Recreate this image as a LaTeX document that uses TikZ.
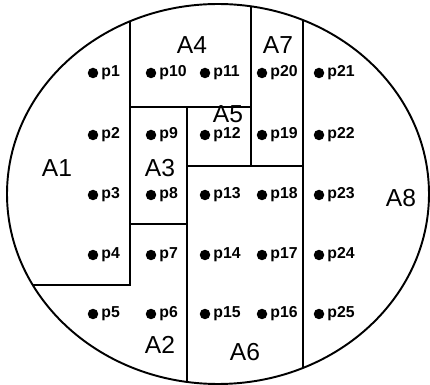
\documentclass[tikz,border=0pt]{standalone}
\usepackage{fontspec}
\setmainfont{Liberation Sans}
\usetikzlibrary{positioning}

\begin{document}
\begin{tikzpicture}[
  x=0.02cm, y=-0.02cm,
  wall/.style={line width=1.1pt, black},
  spot/.style={circle, fill=black, inner sep=0pt, outer sep=0pt, minimum size=0.21cm},
  plab/.style={font=\fontsize{9}{9}\selectfont\bfseries, inner sep=0pt},
  area/.style={font=\fontsize{14}{14}\selectfont, inner sep=0pt}
]
  \useasboundingbox (0,0) rectangle (430,385);

  % outline of the wafer
  \draw[wall] (218,194) ellipse [x radius=211, y radius=190];

  % region borders
  \begin{scope}
    \clip (218,194) ellipse [x radius=211, y radius=190];
    \draw[wall] (130,0) -- (130,285) -- (0,285);
    \draw[wall] (130,107) -- (251,107);
    \draw[wall] (251,0) -- (251,166);
    \draw[wall] (187,107) -- (187,400);
    \draw[wall] (130,224) -- (187,224);
    \draw[wall] (187,166) -- (303,166);
    \draw[wall] (303,0) -- (303,400);
  \end{scope}

  % measurement points
  \foreach \n/\x/\y in {1/93/73, 2/93/135, 3/93/195, 4/93/255, 5/93/314,
                        10/151/73, 9/151/135, 8/151/195, 7/151/255, 6/151/314,
                        11/205/73, 12/205/135, 13/205/195, 14/205/255, 15/205/314,
                        20/262/73, 19/262/135, 18/262/195, 17/262/255, 16/262/314,
                        21/319/73, 22/319/135, 23/319/195, 24/319/255, 25/319/314}
  {
    \node[spot] (p\n) at (\x,\y) {};
    \node[plab, right=1.6pt of p\n] {p\n};
  }

  % areas
  \node[area] (a1) at (57,168) {A1};
  \node[area] (a2) at (160,345) {A2};
  \node[area] (a3) at (160,168) {A3};
  \node[area] (a4) at (192,45) {A4};
  \node[area] (a5) at (228,114) {A5};
  \node[area] (a6) at (245,352) {A6};
  \node[area] (a7) at (278,45) {A7};
  \node[area] (a8) at (401,198) {A8};
\end{tikzpicture}
\end{document}
